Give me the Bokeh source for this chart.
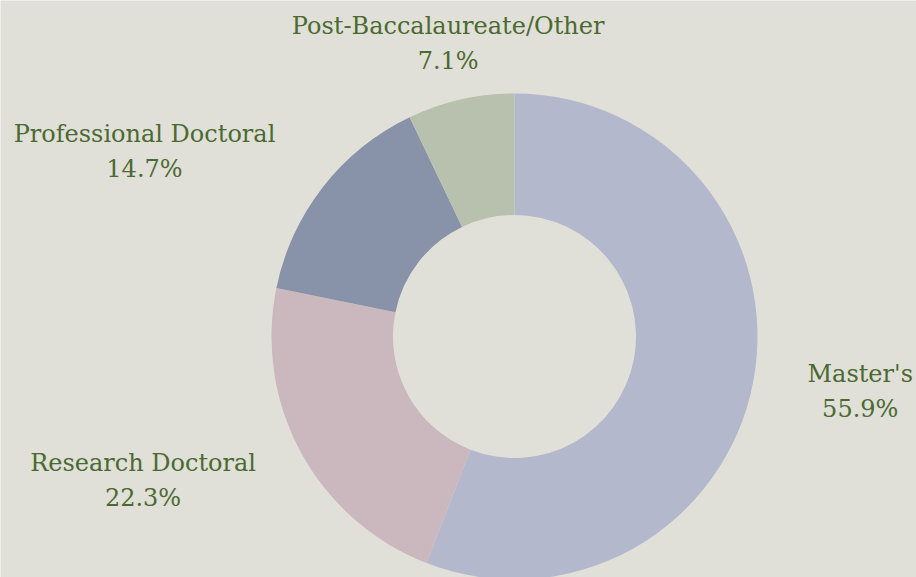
import math
from bokeh.plotting import figure
from bokeh.models import ColumnDataSource, Range1d
from bokeh.core.properties import value
from bokeh.embed import file_html
from bokeh.resources import INLINE

categories = ["Master's", "Research Doctoral", "Professional Doctoral", "Post-Baccalaureate/Other"]
shares = [55.9, 22.3, 14.7, 7.1]
colors = ["#b3b8cc", "#cbb8bf", "#8892a9", "#b8c0ae"]

BG = "#e1e0d8"
TXT = "#4b6a32"
W, H = 916, 577
cx, cy = 514, 241
r_out, r_in = 243, 121.5
r_lab = 300
fs = 24

p = figure(width=W, height=H, output_backend="svg", toolbar_location=None,
           x_range=Range1d(0, W), y_range=Range1d(0, H),
           background_fill_color=BG, border_fill_color=BG, min_border=0)
p.outline_line_color = None
p.axis.visible = False
p.grid.visible = False

total = sum(shares)
starts, ends, mids = [], [], []
cum = 0.0
for s in shares:
    a0 = math.pi / 2 - 2 * math.pi * cum / total
    cum += s
    a1 = math.pi / 2 - 2 * math.pi * cum / total
    starts.append(a0)
    ends.append(a1)
    mids.append((a0 + a1) / 2)

src = ColumnDataSource(dict(start=starts, end=ends, color=colors))
p.annular_wedge(x=cx, y=cy, inner_radius=r_in, outer_radius=r_out,
                start_angle="start", end_angle="end", direction="clock",
                fill_color="color", line_color=None, source=src)

lx, ly_name, ly_pct, names, pcts = [], [], [], [], []
for name, s, m in zip(categories, shares, mids):
    ax = cx + r_lab * math.cos(m)
    ay = cy + r_lab * math.sin(m)
    pct = f"{s:.1f}%"
    w = 0.53 * fs * max(len(name), len(pct))
    c = math.cos(m)
    if c > 0.3:
        x = ax + w / 2
    elif c < -0.3:
        x = ax - w / 2
    else:
        x = ax
    lx.append(x)
    ly_name.append(ay + 17.5)
    ly_pct.append(ay - 17.5)
    names.append(name)
    pcts.append(pct)

lsrc = ColumnDataSource(dict(x=lx, yn=ly_name, yp=ly_pct, name=names, pct=pcts))
for ycol, tcol in (("yn", "name"), ("yp", "pct")):
    p.text(x="x", y=ycol, text=tcol, source=lsrc, text_align="center",
           text_baseline="middle", text_color=TXT,
           text_font=value("DejaVu Serif"), text_font_size=f"{fs}px")

html = file_html(p, INLINE)
html = html.replace("<body>", f'<body style="margin:0;background-color:{BG};">', 1)
open("out.html", "w").write(html)
